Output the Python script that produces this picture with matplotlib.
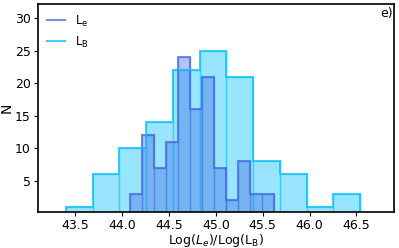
import numpy as np
import matplotlib
matplotlib.use('Agg')
import matplotlib.pyplot as plt
from matplotlib.lines import Line2D

# L_e histogram: bin edges and counts
le_start = 44.088
le_width = 0.128
le_counts = [3, 12, 7, 11, 24, 16, 21, 7, 2, 8, 3, 3]

# L_B histogram
lb_start = 43.40
lb_width = 0.2855
lb_counts = [1, 6, 10, 14, 22, 25, 21, 8, 6, 1, 3]

x_ticks = [43.5, 44.0, 44.5, 45.0, 45.5, 46.0, 46.5]
y_ticks = [5, 10, 15, 20, 25, 30]

le_edges = le_start + le_width * np.arange(len(le_counts) + 1)
lb_edges = lb_start + lb_width * np.arange(len(lb_counts) + 1)
le_mid = 0.5 * (le_edges[:-1] + le_edges[1:])
lb_mid = 0.5 * (lb_edges[:-1] + lb_edges[1:])

c_e = 'royalblue'
c_b = 'deepskyblue'

fig = plt.figure(figsize=(3.99, 2.48), dpi=100)
ax = fig.add_axes([0.095, 0.145, 0.892, 0.839])

# filled bars
ax.hist(lb_mid, bins=lb_edges, weights=lb_counts, histtype='bar',
        color=c_b, alpha=0.4, edgecolor=c_b, linewidth=1.0)
ax.hist(le_mid, bins=le_edges, weights=le_counts, histtype='bar',
        color=c_e, alpha=0.4, edgecolor=c_e, linewidth=1.0)
# outlines
ax.hist(le_mid, bins=le_edges, weights=le_counts, histtype='step',
        color=c_e, alpha=0.75, linewidth=1.5)
ax.hist(lb_mid, bins=lb_edges, weights=lb_counts, histtype='step',
        color=c_b, alpha=0.75, linewidth=1.5)

ax.set_xlim(43.1, 46.9)
ax.set_ylim(0.15, 32.2)
ax.set_xticks(x_ticks)
ax.set_yticks(y_ticks)
ax.tick_params(labelsize=9, length=3, pad=2)
ax.set_xlabel(r'Log($L_e$)/Log(L$_\mathrm{B}$)', fontsize=9, labelpad=0)
ax.set_ylabel('N', fontsize=10, labelpad=1)
for s in ax.spines.values():
    s.set_linewidth(1.2)

ax.text(0.997, 0.985, 'e)', transform=ax.transAxes, ha='right', va='top', fontsize=9)

handles = [Line2D([], [], color=c_e, alpha=0.75, lw=1.5),
           Line2D([], [], color=c_b, alpha=0.75, lw=1.5)]
ax.legend(handles, [r'L$_\mathrm{e}$', r'L$_\mathrm{B}$'], loc='upper left',
          frameon=False, fontsize=8.5, handlelength=1.5,
          borderaxespad=0.4, labelspacing=0.5)

fig.savefig('out.png', dpi=100)
